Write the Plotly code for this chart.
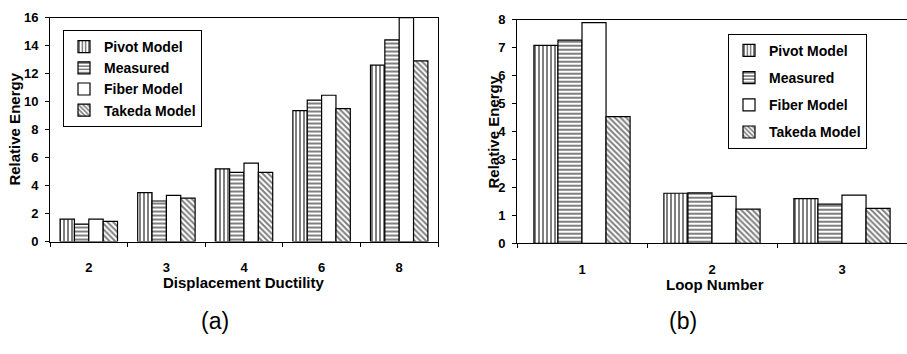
import plotly.graph_objects as go

# ---- data ----
series = ["Pivot Model", "Measured", "Fiber Model", "Takeda Model"]
ductility = ["2", "3", "4", "6", "8"]
pivot_a = [1.6, 3.5, 5.2, 9.35, 12.6]
measured_a = [1.25, 2.9, 4.95, 10.1, 14.4]
fiber_a = [1.6, 3.3, 5.6, 10.45, 16.0]
takeda_a = [1.45, 3.1, 4.95, 9.5, 12.9]

loops = ["1", "2", "3"]
pivot_b = [7.08, 1.79, 1.6]
measured_b = [7.27, 1.8, 1.4]
fiber_b = [7.9, 1.68, 1.72]
takeda_b = [4.53, 1.22, 1.25]

patterns = ["|", "-", "", "\\"]
W, H = 907, 354
FONT = "Liberation Sans"

fig = go.Figure()

def add(vals, cats, xa, ya, i, legend, group):
    fig.add_trace(go.Bar(
        x=cats, y=vals, name=series[i], xaxis=xa, yaxis=ya, legend=legend,
        legendgroup=group,
        marker=dict(color="white", line=dict(color="black", width=1.2),
                    pattern=dict(shape=patterns[i], fgcolor="black", bgcolor="white",
                                 size=4, solidity=0.5)),
    ))

for i, v in enumerate([pivot_a, measured_a, fiber_a, takeda_a]):
    add(v, ductility, "x", "y", i, "legend", "a")
for i, v in enumerate([pivot_b, measured_b, fiber_b, takeda_b]):
    add(v, loops, "x2", "y2", i, "legend2", "b%d" % i)

def px(x):
    return x / W
def py(y):
    return 1 - y / H

tickfont = dict(family=FONT, size=13, color="black", weight="bold")
axcommon = dict(showline=True, linecolor="black", linewidth=1, ticks="outside",
                ticklen=4, tickcolor="black", showgrid=False, zeroline=False,
                tickfont=tickfont)

legfont = dict(family=FONT, size=14, color="black", weight="bold")
fig.update_layout(
    width=W, height=H, margin=dict(l=0, r=0, t=0, b=0),
    paper_bgcolor="white", plot_bgcolor="white",
    barmode="group", bargap=0.26, bargroupgap=0,
    font=dict(family=FONT, color="black"),
    xaxis=dict(domain=[px(50), px(438)], anchor="y", type="category",
               tickson="boundaries", mirror=True, ticklabelstandoff=14, **axcommon),
    yaxis=dict(domain=[py(245), py(11)], anchor="x", range=[0, 16], dtick=2,
               mirror=True, ticklabelstandoff=4, **axcommon),
    xaxis2=dict(domain=[px(517), px(907)], anchor="y2", type="category",
                tickson="boundaries", mirror=True, ticklabelstandoff=14, **axcommon),
    yaxis2=dict(domain=[py(246.7), py(13.3)], anchor="x2", range=[0, 8], dtick=1,
                ticklabelstandoff=4, **axcommon),
    legend=dict(x=px(63), y=py(24), xanchor="left", yanchor="top",
                bordercolor="black", borderwidth=1, bgcolor="white",
                font=legfont, tracegroupgap=0, itemwidth=30),
    legend2=dict(x=px(728), y=py(28), xanchor="left", yanchor="top",
                 bordercolor="black", borderwidth=1, bgcolor="white",
                 font=legfont, tracegroupgap=6, itemwidth=30),
    showlegend=True,
)

titlefont = dict(family=FONT, size=15, color="black", weight="bold")
anns = [
    dict(text="Displacement Ductility", x=px(244), y=py(288)),
    dict(text="Loop Number", x=px(715), y=py(290)),
    dict(text="Relative Energy", x=px(15), y=py(128), textangle=-90),
    dict(text="Relative Energy", x=px(493), y=py(130), textangle=-90),
]
for a in anns:
    fig.add_annotation(xref="paper", yref="paper", showarrow=False,
                       xanchor="center", yanchor="middle", font=titlefont, **a)
for t, x in [("(a)", 215), ("(b)", 683)]:
    fig.add_annotation(text=t, xref="paper", yref="paper", x=px(x), y=py(328),
                       showarrow=False, xanchor="center", yanchor="middle",
                       font=dict(family=FONT, size=23, color="black"))

fig.write_html("out.html")
